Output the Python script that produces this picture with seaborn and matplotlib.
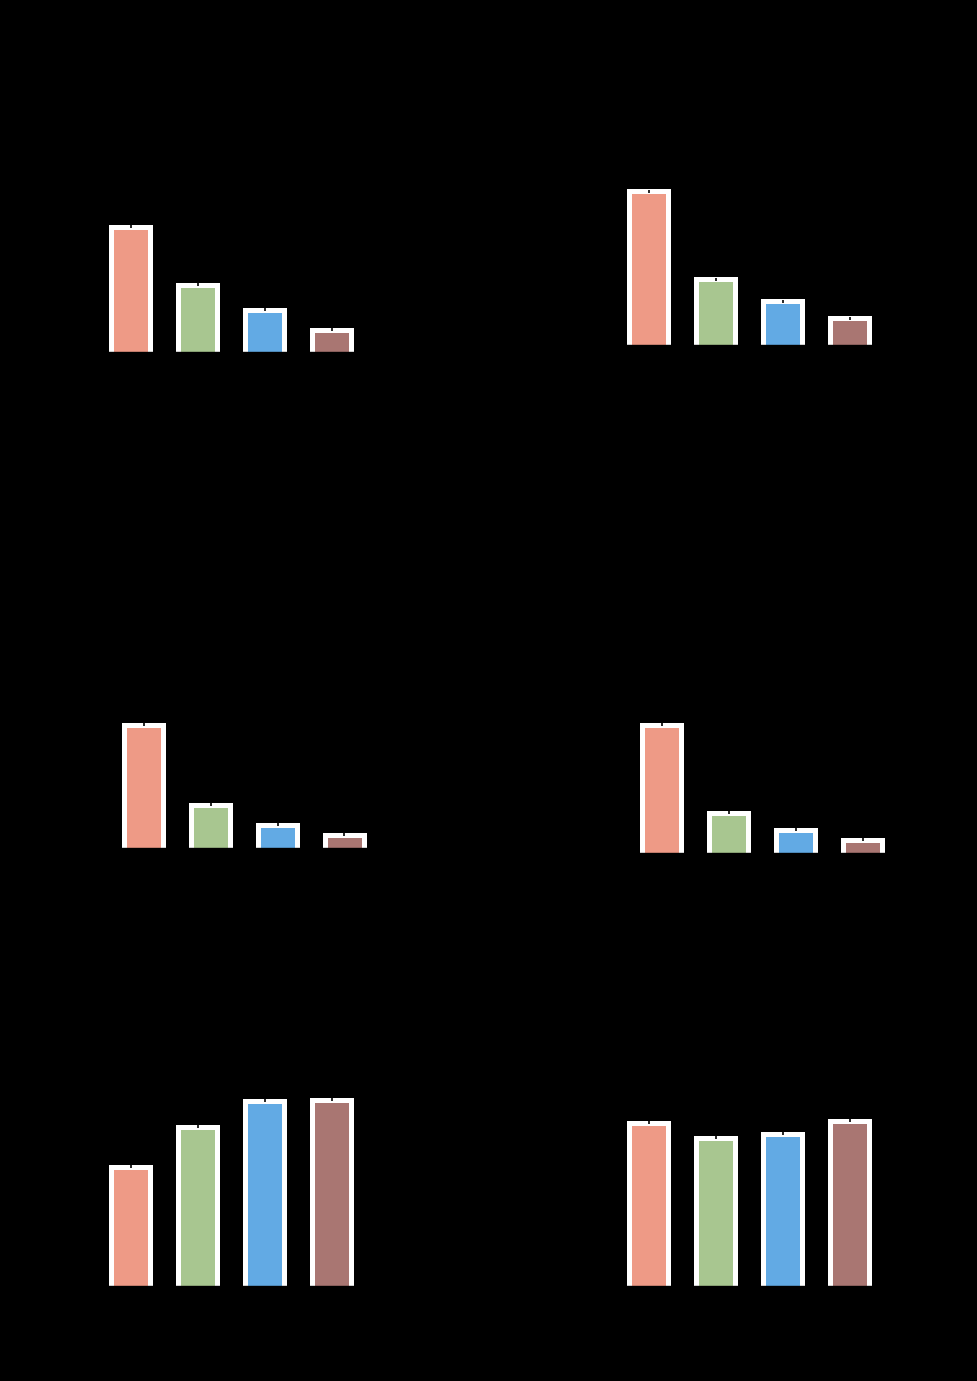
"""
Six bar panels, four groups each (black background, labels in black)
"""
import numpy as np
import pandas as pd
import matplotlib
matplotlib.use('Agg')
import matplotlib.pyplot as plt
import seaborn as sns

sns.set_style('ticks')

"""
Data (read off the picture)
"""
groups = ['Group 1', 'Group 2', 'Group 3', 'Group 4']
colors = ['#EE9A86', '#A8C690', '#62AAE4', '#A97672']

panel_a = [25.1, 13.5, 8.5, 4.5]
panel_b = [30.7, 13.1, 8.7, 5.3]
panel_c = [24.7, 8.7, 4.7, 2.7]
panel_d = [25.7, 8.1, 4.7, 2.7]
panel_e = [23.9, 31.9, 37.1, 37.3]
panel_f = [32.7, 29.7, 30.5, 33.1]
errors = [0.3, 0.3, 0.3, 0.3]

panels = [panel_a, panel_b, panel_c, panel_d, panel_e, panel_f]
# left edge and baseline of each axes, in pixels
places = [(97, 352), (615, 345), (110, 848), (628, 853), (97, 1286), (615, 1286)]

W, H = 977, 1381
fig = plt.figure(figsize=(W / 100, H / 100), dpi=100, facecolor='black')

for values, (left, base) in zip(panels, places):
    ax = fig.add_axes([left / W, (H - base) / H, 268 / W, 200 / H])
    ax.set_facecolor('black')
    df = pd.DataFrame({'group': groups, 'value': values})
    sns.barplot(data=df, x='group', y='value', hue='group', palette=colors,
                width=0.59, edgecolor='white', linewidth=3.6, saturation=1,
                legend=False, ax=ax)
    # push the bottom outline below the axis so it is clipped away
    for p in ax.patches:
        p.set_y(-1)
        p.set_height(p.get_height() + 1)
    ax.errorbar(np.arange(len(groups)), values, yerr=errors, fmt='none',
                ecolor='black', elinewidth=1.2, capsize=0)
    ax.set_xlim(-0.5, 3.5)
    ax.set_ylim(0, 40)
    ax.set_xlabel('')
    ax.set_ylabel('')
    ax.tick_params(colors='black')
    sns.despine(ax=ax)
    for s in ax.spines.values():
        s.set_color('black')
        s.set_linewidth(1.0)

plt.savefig('out.png', dpi=100, facecolor='black')
plt.close()
